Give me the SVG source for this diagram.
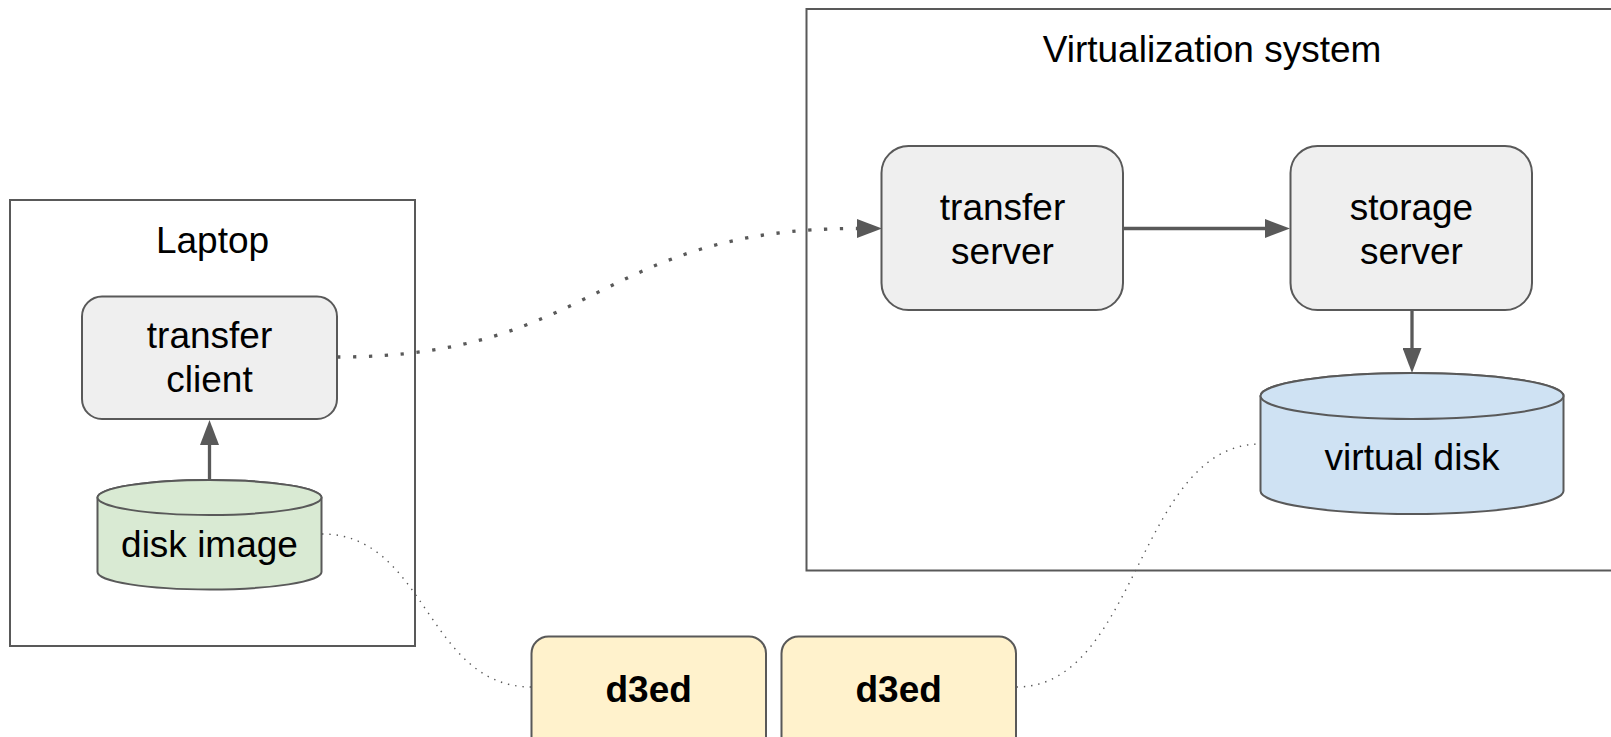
<svg xmlns="http://www.w3.org/2000/svg" width="1611" height="737" viewBox="0 0 1611 737">
  <style>
    .frame { fill: #ffffff; stroke: #595959; stroke-width: 2; }
    .proc { fill: #efefef; stroke: #595959; stroke-width: 2; }
    .note { fill: #fff2cc; stroke: #595959; stroke-width: 2; }
    .green { fill: #d9ead3; stroke: #595959; stroke-width: 2; }
    .blue { fill: #cfe2f3; stroke: #595959; stroke-width: 2; }
    .label { font-family: "Liberation Sans", Arial, sans-serif; font-size: 37px; fill: #000000; text-anchor: middle; }
    .bold { font-weight: bold; }
    .flow { fill: none; stroke: #595959; stroke-width: 3.3; }
    .heavy-dots { fill: none; stroke: #595959; stroke-width: 3.3; stroke-dasharray: 3.3 12.6; }
    .light-dots { fill: none; stroke: #595959; stroke-width: 1.4; stroke-dasharray: 1.4 5.9; }
  </style>
  <defs>
    <marker id="head" viewBox="0 0 25 19" markerWidth="25" markerHeight="19" refX="0" refY="9.5" markerUnits="userSpaceOnUse" orient="auto">
      <path d="M0,0 L25,9.5 L0,19 Z" fill="#595959"/>
    </marker>
  </defs>

  <rect width="1611" height="737" fill="#ffffff"/>

  <!-- containers -->
  <g id="laptop">
    <rect class="frame" x="10" y="200" width="405" height="446"/>
    <text class="label" x="212.5" y="253">Laptop</text>
  </g>
  <g id="virtualization-system">
    <rect class="frame" x="806.5" y="9" width="830" height="561.5"/>
    <text class="label" x="1212" y="61.5">Virtualization system</text>
  </g>

  <!-- connectors -->
  <g id="connectors">
    <path class="flow" d="M209.5,480 L209.5,445" marker-end="url(#head)"/>
    <path class="heavy-dots" d="M337,357 C597,357 597,228.5 857,228.5" marker-end="url(#head)"/>
    <path class="flow" d="M1123,228.5 L1265,228.5" marker-end="url(#head)"/>
    <path class="flow" d="M1412,310 L1412,348" marker-end="url(#head)"/>
    <path class="light-dots" d="M322,534 C426.5,534 426.5,687 531.5,687"/>
    <path class="light-dots" d="M1016.5,687 C1138,687 1138,444 1260.5,444"/>
  </g>

  <!-- nodes -->
  <g id="transfer-client">
    <rect class="proc" x="82" y="296.5" width="255" height="122.5" rx="20" ry="20"/>
    <text class="label" x="209.5" y="348">transfer</text>
    <text class="label" x="209.5" y="392">client</text>
  </g>
  <g id="disk-image">
    <path class="green" d="M97.5,497.5 L97.5,572 A112,17.5 0 0 0 321.5,572 L321.5,497.5 A112,17.5 0 0 0 97.5,497.5 Z"/>
    <ellipse class="green" cx="209.5" cy="497.5" rx="112" ry="17.5"/>
    <text class="label" x="209.5" y="557">disk image</text>
  </g>
  <g id="transfer-server">
    <rect class="proc" x="881.5" y="146" width="241.5" height="164" rx="27" ry="27"/>
    <text class="label" x="1002.5" y="220">transfer</text>
    <text class="label" x="1002.5" y="264">server</text>
  </g>
  <g id="storage-server">
    <rect class="proc" x="1290.5" y="146" width="241.5" height="164" rx="27" ry="27"/>
    <text class="label" x="1411.5" y="220">storage</text>
    <text class="label" x="1411.5" y="264">server</text>
  </g>
  <g id="virtual-disk">
    <path class="blue" d="M1260.5,396 L1260.5,491 A151.5,23 0 0 0 1563.5,491 L1563.5,396 A151.5,23 0 0 0 1260.5,396 Z"/>
    <ellipse class="blue" cx="1412" cy="396" rx="151.5" ry="23"/>
    <text class="label" x="1412" y="470">virtual disk</text>
  </g>
  <g id="d3ed-left">
    <rect class="note" x="531.5" y="636.5" width="234.5" height="125" rx="17" ry="17"/>
    <text class="label bold" x="648.7" y="702">d3ed</text>
  </g>
  <g id="d3ed-right">
    <rect class="note" x="781.5" y="636.5" width="234.5" height="125" rx="17" ry="17"/>
    <text class="label bold" x="898.7" y="702">d3ed</text>
  </g>
</svg>
